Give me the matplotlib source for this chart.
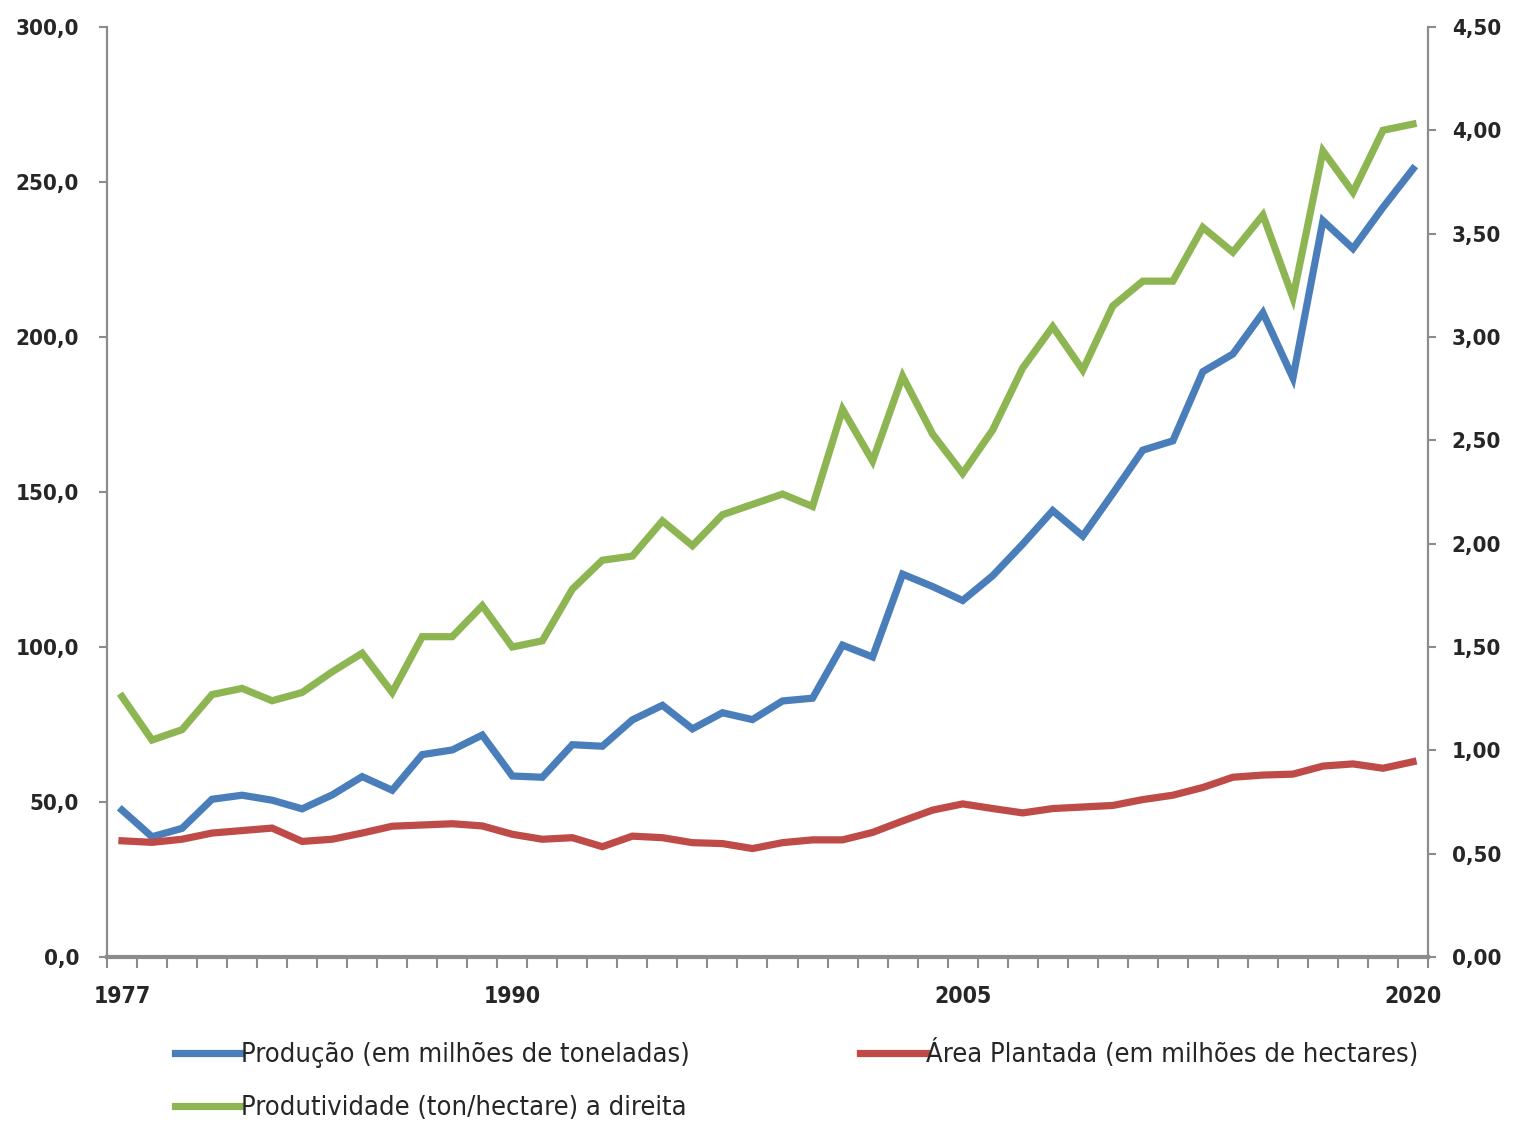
import matplotlib
matplotlib.use("Agg")
import matplotlib.pyplot as plt
import numpy as np
from matplotlib.ticker import FixedLocator, FuncFormatter

plt.rcParams['font.family'] = ['DejaVu Sans']
plt.rcParams['font.stretch'] = 'condensed'

# Safras 1977-2020
years = np.arange(1977, 2021)
producao = [47.4, 38.8, 41.5, 50.9, 52.2, 50.6, 47.8, 52.3, 58.2, 53.8,
            65.3, 66.8, 71.6, 58.4, 58.0, 68.5, 68.0, 76.5, 81.2, 73.6,
            78.8, 76.6, 82.6, 83.5, 100.6, 96.8, 123.5, 119.5, 115.0, 123.0,
            133.2, 144.0, 135.8, 149.5, 163.5, 166.5, 188.8, 194.5, 207.8, 186.8,
            237.5, 228.5, 241.8, 254.2]
area = [37.5, 37.0, 38.0, 40.0, 40.8, 41.6, 37.3, 38.0, 40.0, 42.2,
        42.6, 43.0, 42.3, 39.6, 38.0, 38.5, 35.6, 39.0, 38.5, 36.9,
        36.6, 35.0, 36.9, 37.8, 37.8, 40.2, 43.9, 47.4, 49.4, 47.9,
        46.5, 47.9, 48.4, 48.9, 50.8, 52.2, 54.7, 58.0, 58.7, 59.0,
        61.6, 62.3, 60.9, 63.0]
produtividade = [1.26, 1.05, 1.10, 1.27, 1.30, 1.24, 1.28, 1.38, 1.47, 1.28,
                 1.55, 1.55, 1.70, 1.50, 1.53, 1.78, 1.92, 1.94, 2.11, 1.99,
                 2.14, 2.19, 2.24, 2.18, 2.65, 2.40, 2.81, 2.53, 2.34, 2.55,
                 2.85, 3.05, 2.84, 3.15, 3.27, 3.27, 3.53, 3.41, 3.59, 3.19,
                 3.90, 3.70, 4.00, 4.03]
year_labels = [1977, 1990, 2005, 2020]

labels = ['Produção (em milhões de toneladas)',
          'Área Plantada (em milhões de hectares)',
          'Produtividade (ton/hectare) a direita']
colors = ['#4A7EBB', '#BE4B48', '#8DB653']
axis_gray = '#8C8C8C'

fig = plt.figure(figsize=(15.15, 11.22), dpi=100)
ax = fig.add_axes([0.0706, 0.147, 0.872, 0.829])
ax2 = ax.twinx()

lw = 5.2
l1, = ax.plot(years, producao, color=colors[0], lw=lw, solid_joinstyle='miter')
l2, = ax.plot(years, area, color=colors[1], lw=lw, solid_joinstyle='miter')
l3, = ax2.plot(years, produtividade, color=colors[2], lw=lw, solid_joinstyle='miter')

ax.set_xlim(1976.5, 2020.5)
ax.set_ylim(0, 300)
ax2.set_ylim(0, 4.5)

ax.set_yticks(np.arange(0, 301, 50))
ax2.set_yticks(np.arange(0, 4.51, 0.5))
ax.yaxis.set_major_formatter(FuncFormatter(lambda v, p: f'{v:.1f}'.replace('.', ',')))
ax2.yaxis.set_major_formatter(FuncFormatter(lambda v, p: f'{v:.2f}'.replace('.', ',')))

ax.xaxis.set_major_locator(FixedLocator(year_labels))
ax.xaxis.set_minor_locator(FixedLocator(np.arange(1976.5, 2021, 1.0)))
ax.tick_params(axis='x', which='major', length=0, pad=20, labelsize=16.5)
ax.tick_params(axis='x', which='minor', length=8, width=1.5, color=axis_gray, direction='out')
ax.tick_params(axis='y', length=6, width=1.5, color=axis_gray, pad=14, labelsize=16)
ax2.tick_params(axis='y', length=6, width=1.5, color=axis_gray, pad=11, labelsize=16)

for a in (ax, ax2):
    for lab in a.get_xticklabels() + a.get_yticklabels():
        lab.set_fontweight('bold')
        lab.set_color('#262626')
    a.spines['top'].set_visible(False)
    for s in ('left', 'right', 'bottom'):
        a.spines[s].set_color(axis_gray)
        a.spines[s].set_linewidth(1.6)
ax.spines['bottom'].set_linewidth(3)
ax.spines['right'].set_visible(False)
ax2.spines['left'].set_visible(False)
ax2.spines['bottom'].set_visible(False)

leg_kw = dict(frameon=False, loc='upper left', borderpad=0, borderaxespad=0,
              handlelength=2.45, handletextpad=0.0, labelspacing=1.0,
              prop={'size': 19.5, 'stretch': 'condensed'})
leg1 = fig.legend([l1, l3], [labels[0], labels[2]],
                  bbox_to_anchor=(175 / 1515, 1 - 1042 / 1122), **leg_kw)
leg2 = fig.legend([l2], [labels[1]],
                  bbox_to_anchor=(860 / 1515, 1 - 1039 / 1122), **leg_kw)
for leg in (leg1, leg2):
    for t in leg.get_texts():
        t.set_color('#262626')

fig.savefig('out.png', dpi=100)
